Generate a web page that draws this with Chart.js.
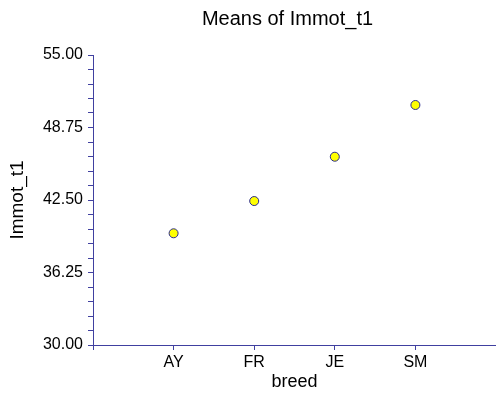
<!DOCTYPE html>
<html>
<head>
<meta charset="utf-8">
<script src="https://cdn.jsdelivr.net/npm/chart.js@4/dist/chart.umd.min.js"></script>
<style>
  html, body { margin: 0; padding: 0; background: #ffffff; }
  #wrap { width: 496px; height: 394px; }
</style>
</head>
<body>
<div id="wrap"><canvas id="c" width="496" height="394"></canvas></div>
<script>
// Breed categories and the mean of Immot_t1 for each
const breeds = ['AY', 'FR', 'JE', 'SM'];
const means = [39.63, 42.41, 46.23, 50.69];
// Labelled values on the vertical axis
const yTickLabels = [30.00, 36.25, 42.50, 48.75, 55.00];

const axisBlue = '#4040a0';
const fontFamily = '"Liberation Sans", Arial, sans-serif';
const chartTitle = 'Means of Immot_t1';

const points = breeds.map((b, i) => ({ x: i + 1, y: means[i] }));

// Title drawn above the plotting area, slightly left of its centre
const areaTitle = {
  id: 'areaTitle',
  afterDraw(chart) {
    const { ctx, chartArea } = chart;
    ctx.save();
    ctx.font = '20px ' + fontFamily;
    ctx.fillStyle = '#000000';
    ctx.textAlign = 'center';
    ctx.textBaseline = 'alphabetic';
    ctx.fillText(chartTitle, (chartArea.left + chartArea.right) / 2 - 7, 25);
    ctx.restore();
  }
};

new Chart(document.getElementById('c'), {
  type: 'scatter',
  data: {
    datasets: [{
      data: points,
      backgroundColor: '#ffff00',
      borderColor: '#2a2a90',
      borderWidth: 1,
      pointRadius: 4.5,
      pointHoverRadius: 4.5
    }]
  },
  plugins: [areaTitle],
  options: {
    responsive: false,
    animation: false,
    events: [],
    layout: { autoPadding: false, padding: { left: 0, right: 0, top: 55, bottom: 0 } },
    plugins: {
      legend: { display: false },
      tooltip: { enabled: false },
      title: { display: false }
    },
    scales: {
      x: {
        type: 'linear',
        min: 0,
        max: 5,
        afterFit: s => { s.height = 49; s.paddingRight = 0; s.paddingLeft = 0; },
        ticks: {
          stepSize: 1,
          color: '#000000',
          font: { family: fontFamily, size: 16 },
          padding: 3,
          maxRotation: 0,
          autoSkip: false,
          callback: v => (v >= 1 && v <= breeds.length) ? breeds[v - 1] : ''
        },
        grid: {
          drawOnChartArea: false,
          drawTicks: true,
          tickLength: 5,
          color: ctx => (ctx.tick && ctx.tick.value < breeds.length + 1) ? axisBlue : 'rgba(0,0,0,0)'
        },
        border: { display: true, color: axisBlue, width: 1 },
        title: {
          display: true,
          text: 'breed',
          color: '#000000',
          font: { family: fontFamily, size: 18 },
          padding: { top: 0, bottom: 1 }
        }
      },
      y: {
        type: 'linear',
        min: 30,
        max: 55,
        afterFit: s => { s.width = 93; s.paddingTop = 0; s.paddingBottom = 0; },
        afterBuildTicks: s => {
          const t = [];
          for (let v = 30; v <= 55.0001; v += 1.25) t.push({ value: Math.round(v * 100) / 100 });
          s.ticks = t;
        },
        ticks: {
          color: '#000000',
          font: { family: fontFamily, size: 16 },
          padding: 5,
          autoSkip: false,
          callback: v => {
            const hit = yTickLabels.find(l => Math.abs(l - v) < 1e-6);
            return hit !== undefined ? hit.toFixed(2) : '';
          }
        },
        grid: {
          drawOnChartArea: false,
          drawTicks: true,
          tickLength: 5,
          color: axisBlue
        },
        border: { display: true, color: axisBlue, width: 1 },
        title: {
          display: true,
          text: 'Immot_t1',
          color: '#000000',
          font: { family: fontFamily, size: 19 },
          padding: { top: 6, bottom: 0 }
        }
      }
    }
  }
});
</script>
</body>
</html>
